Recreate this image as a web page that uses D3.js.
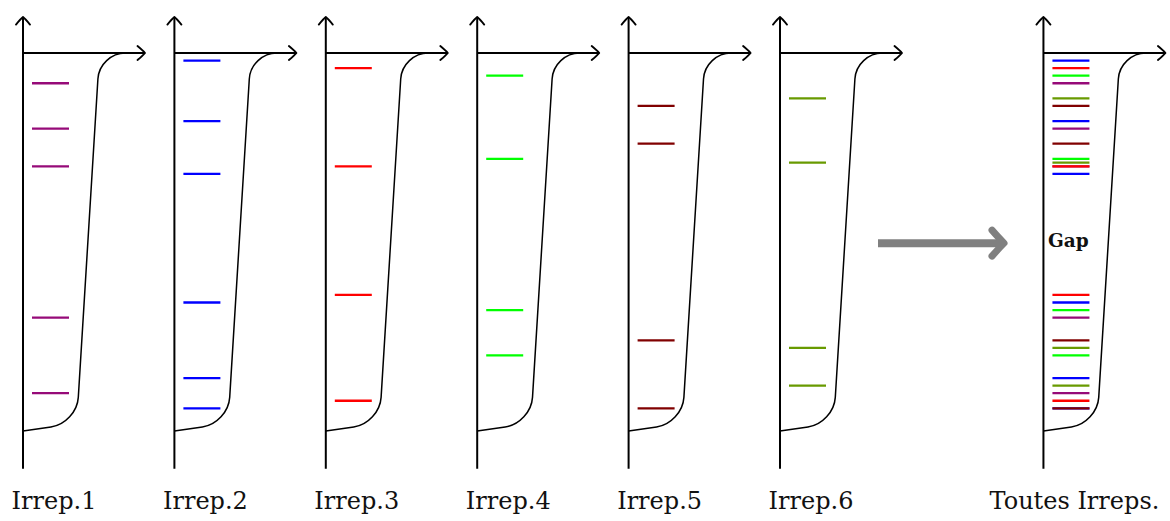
<!DOCTYPE html>
<html>
<head>
<meta charset="utf-8">
<script src="https://cdn.jsdelivr.net/npm/d3@7"></script>
<style>
  html, body { margin: 0; padding: 0; background: #fff; }
  svg { display: block; }
</style>
</head>
<body>
<svg id="chart" width="1170" height="521"></svg>
<script>
// Energy levels (eV, below the reference at 0) for each irreducible representation
const irrepNames = ["Irrep.1", "Irrep.2", "Irrep.3", "Irrep.4", "Irrep.5", "Irrep.6"];
const irrepColors = ["#960a78", "#0000ff", "#ff0000", "#00ff00", "#800000", "#689a00"];
const levels1 = [-0.8, -2.0, -3.0, -7.0, -9.0];
const levels2 = [-0.2, -1.8, -3.2, -6.6, -8.6, -9.4];
const levels3 = [-0.4, -3.0, -6.4, -9.2];
const levels4 = [-0.6, -2.8, -6.8, -8.0];
const levels5 = [-1.4, -2.4, -7.6, -9.4];
const levels6 = [-1.2, -2.9, -7.8, -8.8];
const allLevels = [levels1, levels2, levels3, levels4, levels5, levels6];
const combinedName = "Toutes Irreps.";
const gapLabel = "Gap";

// Outline of the density envelope: [dos, energy] vertices, drawn with rounded corners
const envelope = [[0, -10], [0.537, -9.796], [0.765, 0], [1.015, 0]];

// Panel slots along the page
const panelSlots = [0, 1, 2, 3, 4, 5];
const combinedSlot = 6.74;

const svg = d3.select("#chart");

const slotX = d3.scaleLinear().domain([0, 5]).range([23, 780]);
const y = d3.scaleLinear().domain([0, -10]).range([53, 431]);
const dos = d3.scaleLinear().domain([0, 1]).range([0, 100]);

const axisTop = 0.95, axisBottom = -11;
const axisRight = 1.22;
const levelStart = 9, levelEnd = 46;

function arrowHead(g, x, yy, angle) {
  g.append("path")
    .attr("d", "M-7,7.5 C-4.5,4.5 -2,1.6 0,0 C2,1.6 4.5,4.5 7,7.5")
    .attr("transform", `translate(${x},${yy}) rotate(${angle})`)
    .attr("fill", "none")
    .attr("stroke", "#000")
    .attr("stroke-width", 1.9)
    .attr("stroke-linecap", "round")
    .attr("stroke-linejoin", "round");
}

// Polyline with circular-ish rounded corners
function roundedPath(pts, r) {
  const p = d3.path();
  p.moveTo(pts[0][0], pts[0][1]);
  const k = 0.5523;
  for (let i = 1; i < pts.length - 1; i++) {
    const [ax, ay] = pts[i - 1], [bx, by] = pts[i], [cx, cy] = pts[i + 1];
    const la = Math.hypot(ax - bx, ay - by), lc = Math.hypot(cx - bx, cy - by);
    const p1 = [bx + r * (ax - bx) / la, by + r * (ay - by) / la];
    const p2 = [bx + r * (cx - bx) / lc, by + r * (cy - by) / lc];
    p.lineTo(p1[0], p1[1]);
    p.bezierCurveTo(p1[0] + k * (bx - p1[0]), p1[1] + k * (by - p1[1]),
                    p2[0] + k * (bx - p2[0]), p2[1] + k * (by - p2[1]),
                    p2[0], p2[1]);
  }
  const last = pts[pts.length - 1];
  p.lineTo(last[0], last[1]);
  return p.toString();
}

function drawPanel(x0, levelSets, colorSet, label) {
  const g = svg.append("g").attr("transform", `translate(${x0},0)`);

  // envelope curve
  const pts = envelope.map(d => [dos(d[0]), y(d[1])]);
  g.append("path")
    .attr("d", roundedPath(pts, 26))
    .attr("fill", "none")
    .attr("stroke", "#000")
    .attr("stroke-width", 1.5);

  // levels
  levelSets.forEach((lv, i) => {
    g.selectAll(null).data(lv).enter().append("line")
      .attr("x1", levelStart).attr("x2", levelEnd)
      .attr("y1", d => y(d)).attr("y2", d => y(d))
      .attr("stroke", colorSet[i])
      .attr("stroke-width", 2.3);
  });

  // axes
  g.append("line")
    .attr("x1", 0).attr("x2", 0)
    .attr("y1", y(axisBottom)).attr("y2", y(axisTop))
    .attr("stroke", "#000").attr("stroke-width", 2);
  arrowHead(g, 0, y(axisTop), 0);
  g.append("line")
    .attr("x1", 0).attr("x2", dos(axisRight))
    .attr("y1", y(0)).attr("y2", y(0))
    .attr("stroke", "#000").attr("stroke-width", 2);
  arrowHead(g, dos(axisRight), y(0), 90);

  g.append("text")
    .attr("x", 31).attr("y", 509)
    .attr("text-anchor", "middle")
    .attr("font-family", "'DejaVu Serif', serif")
    .attr("font-size", 24)
    .attr("fill", "#111")
    .text(label);
  return g;
}

panelSlots.forEach((s, i) => {
  drawPanel(slotX(s), [allLevels[i]], [irrepColors[i]], irrepNames[i]);
});

const combined = drawPanel(slotX(combinedSlot), allLevels, irrepColors, combinedName);
combined.append("text")
  .attr("x", 25).attr("y", y(-5.12))
  .attr("text-anchor", "middle")
  .attr("font-family", "'DejaVu Serif', serif")
  .attr("font-weight", "bold")
  .attr("font-size", 18.5)
  .attr("fill", "#111")
  .text(gapLabel);

// Gray arrow leading to the combined panel
const arrowY = y(-5.03);
svg.append("line")
  .attr("x1", 878).attr("x2", 1001)
  .attr("y1", arrowY).attr("y2", arrowY)
  .attr("stroke", "#808080").attr("stroke-width", 8);
svg.append("path")
  .attr("d", `M992,${arrowY - 13} Q999,${arrowY - 5} 1004,${arrowY} Q999,${arrowY + 5} 992,${arrowY + 13}`)
  .attr("fill", "none")
  .attr("stroke", "#808080").attr("stroke-width", 7)
  .attr("stroke-linecap", "round").attr("stroke-linejoin", "round");
</script>
</body>
</html>
